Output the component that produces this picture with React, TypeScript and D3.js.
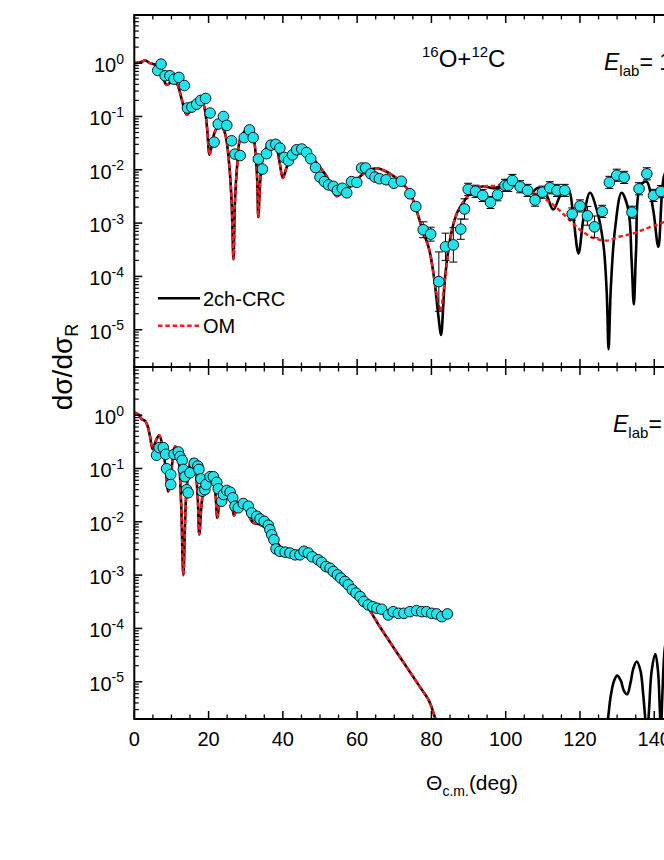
import React from 'react';
import * as d3 from 'd3';

// ---------- data ----------
// Top panel: experimental points
const topDataDeg = [6.3, 7.2, 8.3, 9.6, 10.7, 12.0, 13.5, 14.3, 15.5, 16.8, 17.9, 19.2, 20.4, 21.5, 22.6, 24.0, 24.9, 26.2, 27.1, 28.5, 29.6, 31.0, 32.0, 33.4, 34.5, 35.6, 36.8, 38.1, 39.2, 40.4, 41.5, 42.6, 43.7, 45.1, 46.4, 47.5, 48.8, 50.0, 51.2, 52.3, 53.6, 54.7, 56.0, 57.2, 58.5, 59.9, 61.2, 62.3, 63.7, 64.8, 66.0, 67.8, 69.9, 71.9, 74.2, 75.8, 77.8, 79.8, 82.0, 83.8, 85.9, 87.9, 88.9, 89.9, 91.9, 93.8, 95.9, 97.8, 99.8, 100.7, 101.8, 103.9, 105.9, 107.9, 109.9, 111.9, 113.8, 115.9, 117.9, 120.0, 122.0, 123.9, 126.0, 127.9, 129.9, 131.9, 134.0, 135.9, 138.0, 139.8, 141.8];
const topDataVal = [0.73, 0.96, 0.58, 0.58, 0.50, 0.54, 0.38, 0.144, 0.15, 0.17, 0.20, 0.218, 0.116, 0.033, 0.072, 0.10, 0.068, 0.035, 0.0197, 0.0185, 0.040, 0.056, 0.040, 0.0159, 0.0103, 0.020, 0.029, 0.030, 0.0255, 0.017, 0.0148, 0.0191, 0.0237, 0.0245, 0.0211, 0.0161, 0.011, 0.0073, 0.0060, 0.0052, 0.0049, 0.0041, 0.0045, 0.0037, 0.0060, 0.0058, 0.0108, 0.0108, 0.0084, 0.0073, 0.0068, 0.0065, 0.0056, 0.0061, 0.00355, 0.00205, 0.00075, 0.00062, 0.00008, 0.00036, 0.00039, 0.00077, 0.00184, 0.0043, 0.00395, 0.0033, 0.00244, 0.0034, 0.0051, 0.0051, 0.0063, 0.0048, 0.0041, 0.0027, 0.0038, 0.0046, 0.0041, 0.0041, 0.00148, 0.0021, 0.00137, 0.00085, 0.00166, 0.0058, 0.0079, 0.0072, 0.0016, 0.0044, 0.0084, 0.0033, 0.0039];
// relative errors (0 = bar hidden under the symbol)
const topDataErr = [0, 0, 0, 0, 0, 0, 0, 0, 0, 0, 0, 0, 0, 0, 0, 0, 0, 0, 0, 0, 0, 0, 0, 0, 0, 0, 0, 0, 0, 0, 0, 0, 0, 0, 0, 0, 0, 0, 0, 0, 0, 0, 0, 0, 0, 0, 0, 0, 0, 0, 0, 0, 0, 0, 0, 0.15, 0.41, 0.35, 2.6, 0.8, 1.1, 0.55, 0.55, 0.3, 0.3, 0.3, 0.3, 0.3, 0.3, 0.3, 0.3, 0.3, 0.3, 0.3, 0.3, 0.3, 0.3, 0.3, 0.3, 0.3, 0.5, 0.6, 0.3, 0.3, 0.3, 0.3, 0.3, 0.3, 0.3, 0.3, 0.3];

// Top panel: 2ch-CRC
const topCrcDeg = [0, 1.5, 3.0, 4.2, 5.6, 6.8, 7.8, 8.7, 10.1, 11.4, 12.8, 14.1, 15.0, 16.8, 18.1, 19.0, 19.7, 20.2, 20.8, 21.7, 23.1, 24.4, 25.6, 26.2, 26.7, 27.1, 27.7, 28.5, 30.7, 32.0, 33.0, 33.4, 33.9, 34.7, 36.5, 37.9, 39.1, 40.0, 41.0, 41.9, 44.2, 46.4, 49.1, 51.8, 53.5, 54.5, 55.5, 57.2, 59.9, 62.6, 65.3, 67.5, 70.0, 72.0, 74.0, 75.8, 77.6, 79.4, 80.8, 81.8, 82.6, 83.2, 83.7, 85.1, 86.8, 89.0, 91.3, 94.0, 96.7, 99.4, 101.6, 104.3, 106.5, 108.8, 110.7, 112.8, 115.1, 116.9, 118.2, 119.6, 121.0, 122.7, 124.5, 126.3, 127.2, 127.7, 128.3, 129.4, 131.2, 133.0, 133.9, 134.5, 135.1, 136.2, 137.9, 139.7, 141.1, 142.6, 144.0];
const topCrcVal = [1.0, 1.03, 1.12, 1.0, 0.93, 0.7, 0.52, 0.39, 0.45, 0.42, 0.205, 0.108, 0.124, 0.166, 0.205, 0.134, 0.05, 0.019, 0.027, 0.052, 0.07, 0.049, 0.0115, 0.0025, 0.00021, 0.0025, 0.012, 0.037, 0.06, 0.042, 0.0087, 0.0013, 0.006, 0.0177, 0.0316, 0.0325, 0.014, 0.007, 0.011, 0.0154, 0.0237, 0.0237, 0.0134, 0.0075, 0.004, 0.0032, 0.0035, 0.0042, 0.0065, 0.0093, 0.0107, 0.0095, 0.0075, 0.0056, 0.004, 0.0019, 0.00075, 0.00032, 0.000086, 0.00002, 0.000008, 0.00003, 0.0001, 0.00053, 0.0015, 0.0027, 0.0042, 0.0049, 0.0045, 0.0052, 0.006, 0.0045, 0.0036, 0.0046, 0.0037, 0.0018, 0.0037, 0.0042, 0.0013, 0.00027, 0.0013, 0.0037, 0.0018, 0.0004, 0.00005, 0.0000043, 0.00006, 0.00074, 0.0037, 0.0018, 0.0002, 0.00003, 0.0003, 0.0049, 0.006, 0.0018, 0.00036, 0.0075, 0.012];

// Top panel: OM
const topOmDeg = [0, 1.5, 3.0, 4.2, 5.6, 6.8, 7.8, 8.7, 10.1, 11.4, 12.8, 14.1, 15.0, 16.8, 18.1, 19.0, 19.7, 20.2, 20.8, 21.7, 23.1, 24.4, 25.6, 26.2, 26.7, 27.1, 27.7, 28.5, 30.7, 32.0, 33.0, 33.4, 33.9, 34.7, 36.5, 37.9, 39.1, 40.0, 41.0, 41.9, 44.2, 46.4, 49.1, 51.8, 53.5, 54.5, 55.5, 57.2, 59.9, 62.6, 65.3, 67.5, 70.0, 72.0, 74.0, 75.8, 77.6, 79.4, 80.8, 81.6, 82.4, 83.2, 83.9, 85.1, 86.8, 89.0, 91.3, 94.0, 97.0, 100.3, 103.0, 106.0, 109.0, 111.0, 112.8, 116.4, 120.0, 123.6, 127.2, 130.8, 134.4, 138.0, 140.7, 142.6, 144.0];
const topOmVal = [1.0, 1.03, 1.12, 1.0, 0.93, 0.7, 0.52, 0.39, 0.45, 0.42, 0.205, 0.108, 0.124, 0.166, 0.205, 0.134, 0.05, 0.019, 0.027, 0.052, 0.07, 0.049, 0.0115, 0.0025, 0.00021, 0.0025, 0.012, 0.037, 0.06, 0.042, 0.0087, 0.0013, 0.006, 0.0177, 0.0316, 0.0325, 0.014, 0.007, 0.011, 0.0154, 0.0237, 0.0237, 0.0134, 0.0075, 0.004, 0.0032, 0.0035, 0.0042, 0.0065, 0.0093, 0.0107, 0.0095, 0.0075, 0.0056, 0.004, 0.0019, 0.00075, 0.00032, 0.000086, 0.00004, 0.000022, 0.00005, 0.00012, 0.00053, 0.0015, 0.0027, 0.0042, 0.0049, 0.005, 0.0055, 0.0049, 0.0042, 0.0032, 0.0027, 0.0022, 0.0013, 0.00075, 0.00053, 0.00047, 0.00056, 0.00064, 0.0008, 0.00093, 0.00105, 0.0012];

// Bottom panel: experimental points
const botDataDeg = [6.0, 6.7, 7.8, 8.45, 8.7, 9.8, 9.8, 10.7, 11.85, 12.3, 12.9, 13.2, 13.65, 14.1, 14.5, 15.0, 16.15, 17.1, 17.4, 17.95, 18.3, 19.0, 19.3, 20.4, 21.3, 22.2, 22.6, 23.5, 24.0, 24.9, 25.8, 26.5, 27.1, 28.0, 29.35, 30.7, 31.6, 33.0, 33.85, 35.0, 36.1, 36.5, 37.0, 37.6, 38.15, 39.2, 40.6, 41.9, 43.3, 44.6, 45.7, 46.85, 47.9, 49.5, 50.45, 51.6, 52.7, 53.6, 54.7, 55.6, 56.7, 57.6, 58.7, 59.7, 60.8, 61.8, 63.0, 64.2, 65.3, 66.6, 68.4, 69.7, 71.1, 72.6, 74.2, 76.0, 77.4, 78.7, 80.1, 81.4, 82.8, 84.3];
const botDataVal = [0.177, 0.246, 0.246, 0.184, 0.099, 0.077, 0.050, 0.184, 0.204, 0.167, 0.142, 0.096, 0.070, 0.040, 0.035, 0.083, 0.125, 0.111, 0.096, 0.064, 0.0375, 0.040, 0.050, 0.070, 0.070, 0.055, 0.0416, 0.0243, 0.0325, 0.0387, 0.036, 0.0282, 0.0196, 0.0183, 0.022, 0.0196, 0.0147, 0.0127, 0.0113, 0.0102, 0.0086, 0.0071, 0.0057, 0.0046, 0.0031, 0.0028, 0.0027, 0.0026, 0.0024, 0.0024, 0.0028, 0.0026, 0.0022, 0.00194, 0.00173, 0.00145, 0.00135, 0.00117, 0.00101, 0.00088, 0.00076, 0.00066, 0.00053, 0.00046, 0.000395, 0.00032, 0.000276, 0.000256, 0.000239, 0.000229, 0.000179, 0.000206, 0.000192, 0.000192, 0.000206, 0.000215, 0.000206, 0.000206, 0.000192, 0.000187, 0.000166, 0.000187];

// Bottom panel: forward-angle curves (2ch-CRC and OM coincide)
const botFwdDeg = [0, 1.1, 2.0, 2.9, 3.6, 4.2, 4.95, 5.8, 6.7, 7.6, 8.45, 9.15, 9.9, 11.0, 11.85, 12.6, 13.2, 13.9, 14.5, 15.45, 16.3, 17.1, 17.5, 18.15, 19.0, 20.4, 21.7, 22.35, 23.1, 24.4, 25.8, 26.85, 28.0, 29.35, 30.7, 32.0, 33.8, 36.1, 38.3, 40.1, 42.5, 44.6, 48.2, 51.8, 55.4, 59.0, 62.6, 66.2, 69.7, 73.3, 76.9, 79.2, 81.0, 82.5];
const botFwdVal = [1.12, 1.04, 0.84, 0.78, 0.62, 0.41, 0.23, 0.33, 0.42, 0.26, 0.096, 0.037, 0.083, 0.26, 0.17, 0.023, 0.001, 0.026, 0.077, 0.149, 0.11, 0.026, 0.0058, 0.023, 0.054, 0.077, 0.040, 0.0119, 0.026, 0.04, 0.035, 0.0131, 0.0197, 0.021, 0.0137, 0.0096, 0.0089, 0.0071, 0.0043, 0.0029, 0.0025, 0.0024, 0.0021, 0.00136, 0.00083, 0.00046, 0.00026, 0.000105, 0.000045, 0.000019, 0.000008, 0.0000046, 0.0000021, 0.000001];

// Bottom panel: 2ch-CRC at backward angles
const botBackDeg = [126.8, 127.6, 128.3, 129.2, 130.0, 131.0, 131.8, 132.7, 133.6, 134.4, 135.3, 136.3, 137.0, 137.6, 138.0, 138.6, 139.3, 140.3, 141.0, 141.5, 141.8, 142.1, 142.8, 143.5];
const botBackVal = [0.0000008, 0.0000022, 0.0000055, 0.0000105, 0.000013, 0.0000105, 0.0000068, 0.0000058, 0.0000095, 0.000018, 0.000024, 0.000016, 0.000006, 0.0000019, 0.0000008, 0.000003, 0.000016, 0.000033, 0.000016, 0.000003, 0.000001, 0.000004, 0.00004, 0.00008];

const xMajor = [0, 20, 40, 60, 80, 100, 120, 140, 160, 180];
const yExponents = [0, -1, -2, -3, -4, -5];
const legendLabels = ['2ch-CRC', 'OM'];

// ---------- layout ----------
const W = 664;
const H = 860;
const FONT = "'Liberation Sans', Arial, Helvetica, sans-serif";
const CYAN = '#22e2ec';

const x = d3.scaleLinear().domain([0, 180]).range([134.3, 134.3 + 180 * 3.714]);
const yTop = d3.scaleLog().domain([2e-6, 8]).range([367, 15]);
const yBot = d3.scaleLog().domain([2e-6, 8]).range([719, 367]);

const minorLog: number[] = [];
for (let k = -6; k <= 0; k++) {
  for (let m = 2; m <= 9; m++) {
    const v = m * Math.pow(10, k);
    if (v >= 2e-6 && v <= 8) minorLog.push(v);
  }
}
const xMinor = d3.range(0, 181, 5).filter((d) => d % 20 !== 0);

function makeLine(xs: number[], ys: number[], ys2: d3.ScaleLogarithmic<number, number>) {
  return d3
    .line<number>()
    .x((_, i) => x(xs[i]))
    .y((_, i) => ys2(ys[i]))
    .curve(d3.curveCatmullRom.alpha(0.5))(xs) as string;
}

function Panel({ y, top, bottom, id }: { y: d3.ScaleLogarithmic<number, number>; top: number; bottom: number; id: string }) {
  const x0 = x(0);
  const x1 = x(180);
  return (
    <g>
      <rect x={x0} y={top} width={x1 - x0} height={bottom - top} fill="none" stroke="#000" strokeWidth={2} />
      {xMajor.map((d) => (
        <g key={'xm' + id + d}>
          <line x1={x(d)} x2={x(d)} y1={top} y2={top + 8} stroke="#000" strokeWidth={1.5} />
          <line x1={x(d)} x2={x(d)} y1={bottom} y2={bottom - 8} stroke="#000" strokeWidth={1.5} />
        </g>
      ))}
      {xMinor.map((d) => (
        <g key={'xn' + id + d}>
          <line x1={x(d)} x2={x(d)} y1={top} y2={top + 4.5} stroke="#000" strokeWidth={1.3} />
          <line x1={x(d)} x2={x(d)} y1={bottom} y2={bottom - 4.5} stroke="#000" strokeWidth={1.3} />
        </g>
      ))}
      {yExponents.map((e) => (
        <g key={'ym' + id + e}>
          <line x1={x0} x2={x0 + 8} y1={y(Math.pow(10, e))} y2={y(Math.pow(10, e))} stroke="#000" strokeWidth={1.5} />
          <line x1={x1} x2={x1 - 8} y1={y(Math.pow(10, e))} y2={y(Math.pow(10, e))} stroke="#000" strokeWidth={1.5} />
          <text x={124} y={y(Math.pow(10, e)) + 9} textAnchor="end" fontSize={20} fontFamily={FONT}>
            10<tspan dy={-8.5} fontSize={14}>{e === 0 ? '0' : '-' + Math.abs(e)}</tspan>
          </text>
        </g>
      ))}
      {minorLog.map((v, i) => (
        <g key={'yn' + id + i}>
          <line x1={x0} x2={x0 + 4.5} y1={y(v)} y2={y(v)} stroke="#000" strokeWidth={1.2} />
          <line x1={x1} x2={x1 - 4.5} y1={y(v)} y2={y(v)} stroke="#000" strokeWidth={1.2} />
        </g>
      ))}
    </g>
  );
}

function Points({ degs, vals, errs, y }: { degs: number[]; vals: number[]; errs?: number[]; y: d3.ScaleLogarithmic<number, number> }) {
  return (
    <g>
      {errs &&
        degs.map((d, i) => {
          const e = errs[i];
          if (!e) return null;
          const hi = y(vals[i] * (1 + e));
          const lo = y(vals[i] / (1 + e));
          const cx = x(d);
          return (
            <g key={'e' + i} stroke="#000" strokeWidth={1}>
              <line x1={cx} x2={cx} y1={hi} y2={lo} />
              <line x1={cx - 4} x2={cx + 4} y1={hi} y2={hi} />
              <line x1={cx - 4} x2={cx + 4} y1={lo} y2={lo} />
            </g>
          );
        })}
      {degs.map((d, i) => (
        <circle key={'p' + i} cx={x(d)} cy={y(vals[i])} r={5.3} fill={CYAN} stroke="#000" strokeWidth={0.9} />
      ))}
    </g>
  );
}

export default function App() {
  const x0 = x(0);
  const x1 = x(180);
  return (
    <svg width={W} height={H} style={{ position: 'absolute', left: 0, top: 0, background: '#fff' }} fontFamily={FONT}>
      <defs>
        <clipPath id="clipTop">
          <rect x={x0} y={15} width={x1 - x0} height={352} />
        </clipPath>
        <clipPath id="clipBot">
          <rect x={x0} y={367} width={x1 - x0} height={352} />
        </clipPath>
      </defs>
      <rect x={0} y={0} width={W} height={H} fill="#fff" />

      <g clipPath="url(#clipTop)">
        <path d={makeLine(topCrcDeg, topCrcVal, yTop)} fill="none" stroke="#000" strokeWidth={2.6} strokeLinejoin="round" />
        <path d={makeLine(topOmDeg, topOmVal, yTop)} fill="none" stroke="#ff1a1a" strokeWidth={2.4} strokeDasharray="4.5,2.8" />
        <Points degs={topDataDeg} vals={topDataVal} errs={topDataErr} y={yTop} />
      </g>

      <g clipPath="url(#clipBot)">
        <path d={makeLine(botFwdDeg, botFwdVal, yBot)} fill="none" stroke="#000" strokeWidth={2.6} strokeLinejoin="round" />
        <path d={makeLine(botBackDeg, botBackVal, yBot)} fill="none" stroke="#000" strokeWidth={2.6} strokeLinejoin="round" />
        <path d={makeLine(botFwdDeg, botFwdVal, yBot)} fill="none" stroke="#ff1a1a" strokeWidth={2.4} strokeDasharray="4.5,2.8" />
        <Points degs={botDataDeg} vals={botDataVal} y={yBot} />
      </g>

      <Panel y={yTop} top={15} bottom={367} id="t" />
      <Panel y={yBot} top={367} bottom={719} id="b" />

      {/* x tick labels (only those that fall inside the page) */}
      {xMajor
        .filter((d) => x(d) < W)
        .map((d) => (
          <text key={'xl' + d} x={x(d)} y={746} textAnchor="middle" fontSize={20}>
            {d}
          </text>
        ))}
      <text x={472} y={790} textAnchor="middle" fontSize={21}>
        Θ<tspan fontSize={14} dy={6}>c.m.</tspan>
        <tspan dy={-6}>(deg)</tspan>
      </text>

      <text transform="translate(72,367) rotate(-90)" textAnchor="middle" fontSize={28}>
        dσ/dσ<tspan fontSize={18} dy={6}>R</tspan>
      </text>

      <line x1={158} x2={200} y1={298.3} y2={298.3} stroke="#000" strokeWidth={2.6} />
      <text x={203} y={305.5} fontSize={20}>{legendLabels[0]}</text>
      <line x1={158} x2={200} y1={325.7} y2={325.7} stroke="#ff1a1a" strokeWidth={2.4} strokeDasharray="4.5,2.8" />
      <text x={203} y={333} fontSize={20}>{legendLabels[1]}</text>

      <text x={422} y={67} fontSize={24}>
        <tspan fontSize={15} dy={-10}>16</tspan>
        <tspan dy={10}>O+</tspan>
        <tspan fontSize={15} dy={-10}>12</tspan>
        <tspan dy={10}>C</tspan>
      </text>
      <text x={604} y={70} fontSize={23}>
        <tspan fontStyle="italic">E</tspan>
        <tspan fontSize={15} dy={6}>lab</tspan>
        <tspan dy={-6}>= 1</tspan>
      </text>
      <text x={613} y={431.7} fontSize={23}>
        <tspan fontStyle="italic">E</tspan>
        <tspan fontSize={15} dy={6}>lab</tspan>
        <tspan dy={-6}>=</tspan>
      </text>
    </svg>
  );
}
